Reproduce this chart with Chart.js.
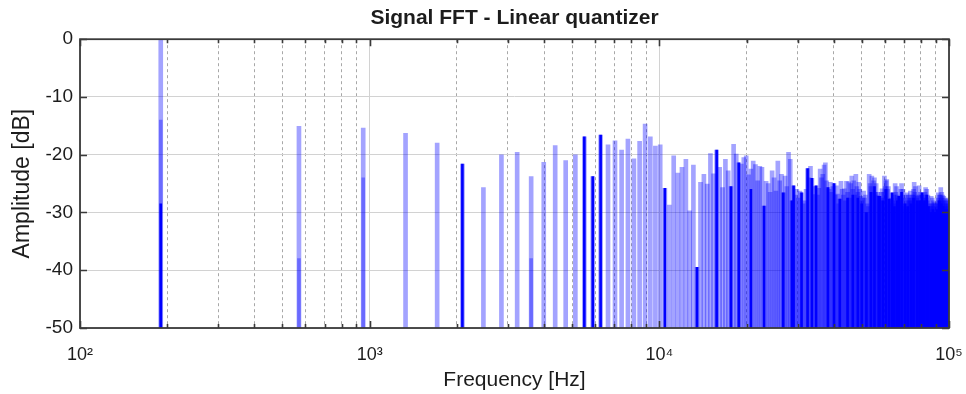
<!DOCTYPE html>
<html>
<head>
<meta charset="utf-8">
<script src="https://cdn.jsdelivr.net/npm/chart.js@4.4.1/dist/chart.umd.min.js"></script>
<style>
  html, body { margin: 0; padding: 0; background: #fff; }
  #wrap { width: 966px; height: 394px; position: relative; }
</style>
</head>
<body>
<div id="wrap"><canvas id="fftChart"></canvas></div>
<script>
// === DATA ===
// odd harmonics of the fundamental: frequency = fundamentalHz * order
const fundamentalHz = 190;

// amplitude [dB] of every odd harmonic, order 1, 3, 5 ...
const ampA = [ // orders 1..51
  0, -15.1, -15.4, -16.3, -18.0, -21.6, -25.7, -20.0, -19.6, -23.8, -21.3, -18.4, -21.0,
  -20.0, -16.9, -23.8, -16.6, -18.3, -17.6, -19.2, -17.3, -20.7, -17.7, -14.7, -16.9, -18.5
];
const ampB = [ // orders 53..101
  -18.3, -25.8, -28.7, -20.2, -23.2, -22.2, -20.8, -29.7, -21.8, -39.5, -24.8, -23.4, -25.1,
  -19.8, -23.3, -19.2, -22.2, -25.7, -20.8, -22.8, -25.5, -18.2, -19.9, -21.4, -21.6
];
const ampC = [ // orders 103..201
  -20.5, -20.2, -23.5, -22.5, -21.1, -21.7, -24.5, -22.0, -22.2, -28.9,
  -24.6, -25.0, -26.5, -22.8, -24.0, -26.3, -21.1, -24.5, -23.4, -26.6,
  -23.7, -25.5, -19.6, -20.8, -28.0, -25.4, -27.0, -26.0, -27.5, -26.3,
  -26.6, -28.5, -28.0, -26.0, -22.4, -24.0, -22.0, -24.1, -25.5, -26.9,
  -25.4, -27.0, -25.8, -22.5, -24.0, -23.4, -21.8, -21.4, -24.5, -25.7
];
const ampD = [ // orders 203..301
  -26.0, -24.8, -26.5, -25.5, -25.0, -27.0, -25.4, -26.8, -28.5, -27.7,
  -24.6, -26.0, -27.0, -25.9, -28.0, -24.6, -26.5, -24.7, -27.5, -25.0,
  -23.7, -26.0, -24.5, -27.0, -23.4, -25.5, -26.5, -24.8, -26.0, -27.2,
  -28.0, -27.5, -26.3, -27.5, -27.0, -30.0, -28.5, -29.0, -23.4, -25.0,
  -25.5, -23.7, -26.5, -24.5, -24.0, -26.5, -25.0, -27.0, -26.5, -27.2
];
const ampE = [ // orders 303..411
  -27.2, -28.0, -26.5, -25.9, -27.5, -26.5, -23.7, -25.5, -24.5, -24.3, -26.0,
  -25.5, -27.7, -28.5, -27.8, -27.5, -26.6, -28.0, -27.0, -28.5, -25.0, -26.5,
  -25.5, -27.0, -27.5, -27.2, -28.0, -28.5, -26.0, -25.0, -27.0, -26.0, -27.5,
  -29.0, -28.5, -29.5, -27.0, -26.6, -28.0, -27.0, -27.5, -28.0, -26.3, -27.5,
  -27.0, -28.0, -27.0, -26.0, -24.8, -26.5, -25.5, -27.0, -27.5, -27.2, -28.5
];
const ampF = [ // orders 413..525
  -28.0, -25.4, -27.0, -26.5, -28.0, -27.0, -26.6, -28.0, -27.5, -28.5, -27.0, -26.5,
  -25.7, -27.5, -26.0, -28.0, -27.0, -29.0, -29.5, -28.5, -30.0, -29.0, -27.2, -28.5,
  -27.5, -29.0, -28.0, -28.5, -28.3, -29.5, -28.5, -30.0, -29.0, -28.5, -27.5, -26.6,
  -28.0, -27.0, -28.5, -27.0, -25.7, -27.5, -26.5, -28.0, -27.0, -28.0, -27.2, -28.5,
  -27.5, -29.0, -28.0, -28.5, -27.7, -29.0, -28.0, -28.5, -27.5
];

// harmonics drawn as solid thin lines
const darkOrder = [1, 11, 29, 31, 33, 55, 71, 83, 93, 99, 109, 121, 141, 151, 153, 163,
  171, 177, 183, 201, 211, 221, 235, 245, 255, 263, 273, 283, 291, 301, 303, 311, 319,
  327, 335, 341, 349, 353, 361, 371, 379, 389, 397, 409, 417, 425, 433, 441, 447, 455,
  463, 471, 479, 487, 495, 503, 511, 519];
const darkAmp = [-28.5, -21.6, -16.9, -23.8, -16.6, -25.8, -39.5, -19.2, -25.5, -21.4,
  -26.0, -28.9, -26.6, -28.0, -25.4, -26.6, -22.4, -24.1, -25.4, -25.7,
  -25.0, -27.7, -27.5, -27.0, -27.5, -28.5, -30.0, -26.5, -25.5, -27.2,
  -27.2, -28.0, -26.0, -27.7, -26.6, -29.0, -28.0, -27.2, -26.5, -28.5,
  -29.0, -28.5, -27.5, -28.0, -28.0, -26.6, -28.0, -27.0, -29.0, -30.0,
  -29.5, -30.0, -29.5, -28.0, -28.5, -29.0, -29.5, -29.5];

// overlapping leakage lines under a few low harmonics
const leakOrder = [1, 3, 5, 19];
const leakAmp = [-14, -38, -24, -38];

// axes
const xTickValues = [100, 200, 300, 400, 500, 600, 700, 800, 900,
  1000, 2000, 3000, 4000, 5000, 6000, 7000, 8000, 9000,
  10000, 20000, 30000, 40000, 50000, 60000, 70000, 80000, 90000, 100000];
const xMajorTicks = [100, 1000, 10000, 100000];
const xTickLabels = ['10²', '10³', '10⁴', '10⁵'];
const yTickValues = [0, -10, -20, -30, -40, -50];
const floorDb = -50;

const lightAmp = [].concat(ampA, ampB, ampC, ampD, ampE, ampF);
const lightData = lightAmp.map((v, k) => ({ x: fundamentalHz * (2 * k + 1), y: [floorDb, v] }));
const darkData = darkOrder.map((n, i) => ({ x: fundamentalHz * n, y: [floorDb, darkAmp[i]] }));
const leakData = leakOrder.map((n, i) => ({ x: fundamentalHz * n, y: [floorDb, leakAmp[i]] }));

const FONT = '"Liberation Sans", Arial, Helvetica, sans-serif';
const TEXT = '#1c1c1c';

// рамка и внутренние засечки
const frameTicks = {
  id: 'frameTicks',
  afterDatasetsDraw(chart) {
    const { ctx, chartArea: a, scales: { x, y } } = chart;
    ctx.save();
    ctx.strokeStyle = '#3a3a3a';
    ctx.lineWidth = 1.6;
    ctx.beginPath();
    xTickValues.forEach(v => {
      const px = Math.round(x.getPixelForValue(v)) + 0.5;
      const len = xMajorTicks.includes(v) ? 7 : 4;
      ctx.moveTo(px, a.bottom); ctx.lineTo(px, a.bottom - len);
      ctx.moveTo(px, a.top); ctx.lineTo(px, a.top + len);
    });
    yTickValues.forEach(v => {
      const py = Math.round(y.getPixelForValue(v)) + 0.5;
      ctx.moveTo(a.left, py); ctx.lineTo(a.left + 7, py);
      ctx.moveTo(a.right, py); ctx.lineTo(a.right - 7, py);
    });
    ctx.stroke();
    ctx.lineWidth = 1.8;
    ctx.strokeRect(a.left, a.top, a.right - a.left, a.bottom - a.top);
    ctx.restore();
  }
};

new Chart(document.getElementById('fftChart'), {
  type: 'bar',
  data: {
    datasets: [
      { label: 'dark', data: darkData, backgroundColor: '#0000ff', barThickness: 2, grouped: false, order: 0 },
      { label: 'leak', data: leakData, backgroundColor: 'rgba(0,0,255,0.35)', barThickness: 3, grouped: false, order: 1 },
      { label: 'light', data: lightData, backgroundColor: 'rgba(0,0,255,0.36)', barThickness: 4, grouped: false, order: 2 }
    ]
  },
  options: {
    responsive: true,
    maintainAspectRatio: false,
    animation: false,
    events: [],
    layout: { padding: { left: 0, right: 17, top: 0, bottom: 0 } },
    plugins: {
      legend: { display: false },
      tooltip: { enabled: false },
      title: {
        display: true,
        fullSize: false,
        text: 'Signal FFT - Linear quantizer',
        color: TEXT,
        font: { family: FONT, size: 21, weight: 'bold' },
        padding: { top: 6, bottom: 8 }
      }
    },
    scales: {
      x: {
        type: 'logarithmic',
        min: 100,
        max: 100000,
        offset: false,
        afterBuildTicks: s => { s.ticks = xTickValues.map(v => ({ value: v })); },
        afterFit: s => { s.height = 66; s.paddingLeft = 0; s.paddingRight = 0; },
        ticks: {
          autoSkip: false,
          maxRotation: 0,
          padding: 16,
          color: TEXT,
          font: { family: FONT, size: 18 },
          callback: v => {
            const i = xMajorTicks.indexOf(v);
            return i >= 0 ? xTickLabels[i] : '';
          }
        },
        grid: {
          offset: false,
          drawTicks: false,
          color: c => xMajorTicks.includes(c.tick && c.tick.value) ? '#d2d2d2' : '#a8a8a8',
          lineWidth: 1
        },
        border: {
          display: false,
          dash: c => xMajorTicks.includes(c.tick && c.tick.value) ? [] : [3, 3]
        },
        title: {
          display: true,
          text: 'Frequency [Hz]',
          color: TEXT,
          font: { family: FONT, size: 21 },
          padding: { top: 0, bottom: 1 }
        }
      },
      y: {
        min: floorDb,
        max: 0,
        afterFit: s => { s.width = 80; },
        afterBuildTicks: s => { s.ticks = yTickValues.map(v => ({ value: v })); },
        ticks: {
          padding: 7,
          color: TEXT,
          font: { family: FONT, size: 19 }
        },
        grid: { drawTicks: false, color: '#d2d2d2', lineWidth: 1 },
        border: { display: false },
        title: {
          display: true,
          text: 'Amplitude [dB]',
          color: TEXT,
          font: { family: FONT, size: 23 },
          padding: { top: 9, bottom: 0 }
        }
      }
    }
  },
  plugins: [frameTicks]
});
</script>
</body>
</html>
